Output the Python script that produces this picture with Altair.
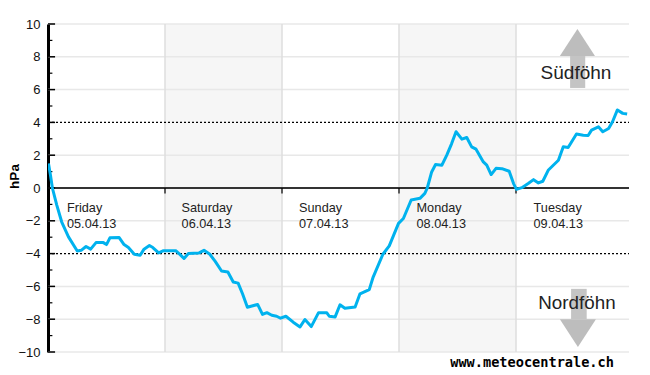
import altair as alt
import pandas as pd

hours = [0.1,0.5,0.9,1.8,2.8,4.2,6.0,6.8,7.8,8.75,9.85,11.35,12.0,12.7,14.6,15.6,16.5,17.7,18.9,19.7,20.8,21.5,22.7,23.7,26.2,27.1,27.9,28.8,31.0,32.0,33.2,34.3,35.6,36.9,38.0,39.0,39.9,40.9,43.0,44.0,44.9,45.9,46.9,47.7,48.8,50.3,51.7,52.7,54.0,55.5,57.2,57.7,58.9,59.9,60.9,63.0,64.0,65.9,66.7,68.7,70.0,71.9,72.9,74.5,76.3,77.3,77.8,78.7,79.5,80.8,81.8,82.8,83.7,84.9,85.9,86.9,87.8,89.3,90.0,90.9,91.9,93.1,94.6,95.5,96.1,97.2,98.5,99.6,100.6,101.5,102.6,104.7,105.7,106.7,108.4,109.8,110.8,111.5,112.9,113.8,115.0,115.8,116.8,117.9,118.8]
values = [1.5,0.8,0.0,-1.04,-2.06,-2.98,-3.84,-3.8,-3.57,-3.73,-3.33,-3.33,-3.45,-3.04,-3.02,-3.45,-3.63,-4.04,-4.1,-3.73,-3.51,-3.63,-3.96,-3.82,-3.82,-4.06,-4.3,-4.0,-3.96,-3.8,-4.04,-4.47,-5.06,-5.12,-5.73,-5.8,-6.45,-7.27,-7.1,-7.71,-7.6,-7.76,-7.82,-7.94,-7.82,-8.18,-8.47,-8.02,-8.45,-7.6,-7.61,-7.82,-7.86,-7.12,-7.33,-7.25,-6.45,-6.2,-5.43,-4.04,-3.53,-2.16,-1.86,-0.73,-0.63,-0.33,0.0,0.98,1.43,1.39,2.0,2.71,3.43,2.98,3.08,2.51,2.37,1.59,1.39,0.82,1.2,1.18,1.02,0.27,-0.08,0.02,0.27,0.51,0.31,0.41,1.08,1.69,2.51,2.47,3.29,3.22,3.2,3.53,3.73,3.43,3.63,4.04,4.76,4.55,4.51]

day_names = ["Friday","Saturday","Sunday","Monday","Tuesday"]
day_dates = ["05.04.13","06.04.13","07.04.13","08.04.13","09.04.13"]
day_label_x = [3.9,27.4,51.5,75.6,99.6]
day_lines = [24,48,72,96]
band_start = [24,72]
band_end = [48,96]
grid_values = [-10,-8,-6,-2,2,6,8,10]
major_ticks = [-10,-8,-6,-4,-2,0,2,4,6,8,10]
minor_ticks = [-9,-7,-5,-3,-1,1,3,5,7,9]
dotted_values = [-4,4]
up_tri_x = [105.0,108.6,112.2]
up_tri_y = [8.05,9.7,8.05]
up_base = 8.05
down_tri_x = [105.0,108.7,112.4]
down_tri_y = [-8.0,-9.7,-8.0]
down_base = -8.0
stems = {"x0":[107.1,107.3],"x1":[110.2,110.5],"y0":[6.1,-8.0],"y1":[8.05,-6.15]}

X_MAX = 119.18
xs = alt.Scale(domain=[0,X_MAX], nice=False, zero=False)
ys = alt.Scale(domain=[-10,10], nice=False, zero=False)
y_axis = alt.Axis(
    values=major_ticks, grid=False, domainColor="#000", domainWidth=3, tickSize=0,
    labelPadding=8, labelFont="Liberation Sans", labelFontSize=13, labelColor="#111",
    title="hPa", titleFont="Liberation Sans", titleFontSize=13.5, titleFontWeight="bold",
    titleColor="#000", titleX=-27, titleY=152, titleAlign="center")
X = lambda f: alt.X(f, type="quantitative", scale=xs, axis=None)
Y = lambda f: alt.Y(f, type="quantitative", scale=ys, axis=y_axis)

bands = alt.Chart(pd.DataFrame({"a":band_start,"b":band_end,"lo":[-10,-10],"hi":[10,10]})).mark_rect(color="#f6f6f6").encode(
    x=X("a"), x2="b", y=Y("lo"), y2="hi")

grid = alt.Chart(pd.DataFrame({"v":grid_values})).mark_rule(color="#e8e8e8", strokeWidth=1.5).encode(
    y=Y("v"), x=alt.value(0), x2=alt.value(581))
vlines = alt.Chart(pd.DataFrame({"d":day_lines})).mark_rule(color="#dedede", strokeWidth=1.5).encode(
    x=X("d"), y=alt.value(0), y2=alt.value(328))

tri_up = alt.Chart(pd.DataFrame({"x":up_tri_x,"y":up_tri_y,"b":[up_base]*3})).mark_area(color="#bdbdbd").encode(
    x=X("x"), y=Y("y"), y2="b")
tri_down = alt.Chart(pd.DataFrame({"x":down_tri_x,"y":down_tri_y,"b":[down_base]*3})).mark_area(color="#bdbdbd").encode(
    x=X("x"), y=Y("y"), y2="b")
stem = alt.Chart(pd.DataFrame(stems)).mark_rect(color="#c4c4c4").encode(
    x=X("x0"), x2="x1", y=Y("y0"), y2="y1")

dotted = alt.Chart(pd.DataFrame({"v":dotted_values})).mark_rule(color="#000", strokeWidth=1.2, strokeDash=[2,2]).encode(
    y=Y("v"), x=alt.value(0), x2=alt.value(581))
zero = alt.Chart(pd.DataFrame({"v":[0]})).mark_rule(color="#333", strokeWidth=2).encode(
    y=Y("v"), x=alt.value(0), x2=alt.value(581))
day_ticks = alt.Chart(pd.DataFrame({"d":day_lines,"a":[0]*4,"b":[-0.33]*4})).mark_rule(color="#000", strokeWidth=1.2).encode(
    x=X("d"), y=Y("a"), y2="b")
maj = alt.Chart(pd.DataFrame({"v":major_ticks,"a":[0]*11,"b":[1.45]*11})).mark_rule(color="#000", strokeWidth=1.5).encode(
    y=Y("v"), x=X("a"), x2="b")
mnr = alt.Chart(pd.DataFrame({"v":minor_ticks,"a":[0]*10,"b":[0.9]*10})).mark_rule(color="#000", strokeWidth=1.2).encode(
    y=Y("v"), x=X("a"), x2="b")

line = alt.Chart(pd.DataFrame({"h":hours,"v":values})).mark_line(
    color="#00b2ee", strokeWidth=3, strokeJoin="round", interpolate="linear", clip=True).encode(
    x=X("h"), y=Y("v"))

def text(xs_, ys_, labels, **kw):
    return alt.Chart(pd.DataFrame({"x":xs_,"y":ys_,"t":labels})).mark_text(**kw).encode(
        x=X("x"), y=Y("y"), text="t:N")

names = text(day_label_x, [-1.22]*5, day_names, font="Liberation Sans", fontSize=12.7, color="#222", align="left", baseline="middle")
dates = text(day_label_x, [-2.2]*5, day_dates, font="Liberation Sans", fontSize=12.7, color="#222", align="left", baseline="middle")
sued = text([108.3],[7.0],["Südföhn"], font="Liberation Sans", fontSize=19, color="#222", align="center", baseline="middle")
nord = text([108.5],[-7.0],["Nordföhn"], font="Liberation Sans", fontSize=18.8, color="#222", align="center", baseline="middle")
site = text([99.3],[-10.7],["www.meteocentrale.ch"], font="DejaVu Sans Mono", fontSize=13.6, fontWeight="bold", color="#000", align="center", baseline="middle")

chart = alt.layer(bands, grid, vlines, tri_up, tri_down, stem, sued, nord, dotted, zero, day_ticks, maj, mnr, line, names, dates, site).properties(
    width=581, height=328,
    autosize=alt.AutoSizeParams(type="none"),
    padding={"left":40,"top":16,"right":13,"bottom":20},
    background="white",
).configure_view(stroke=None)

chart.save("out.html", embed_options={"renderer": "svg", "actions": False})
